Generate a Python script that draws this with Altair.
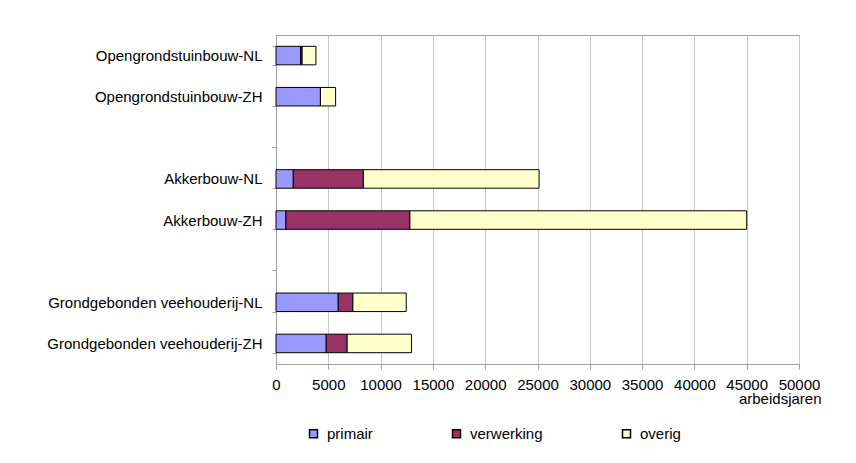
import altair as alt
import pandas as pd

categories = ["Opengrondstuinbouw-NL", "Opengrondstuinbouw-ZH",
              "Akkerbouw-NL", "Akkerbouw-ZH",
              "Grondgebonden veehouderij-NL", "Grondgebonden veehouderij-ZH"]
row_order = ["Opengrondstuinbouw-NL", "Opengrondstuinbouw-ZH", " ",
             "Akkerbouw-NL", "Akkerbouw-ZH", "  ",
             "Grondgebonden veehouderij-NL", "Grondgebonden veehouderij-ZH"]
series = ["primair", "verwerking", "overig"]
primair = [2350, 4250, 1650, 950, 5950, 4800]
verwerking = [150, 0, 6700, 11850, 1400, 2000]
overig = [1320, 1450, 16800, 32200, 5100, 6150]
colors = ["#9999FF", "#993366", "#FFFFCC"]
x_ticks = list(range(0, 50001, 5000))

rows = []
for i, c in enumerate(categories):
    for j, (s, vals) in enumerate(zip(series, [primair, verwerking, overig])):
        rows.append({"sector": c, "soort": s, "volgorde": j, "waarde": vals[i]})
df = pd.DataFrame(rows)

FONT = "Liberation Sans"
FS = 15

chart = alt.Chart(df).mark_bar(stroke="black", strokeWidth=1).encode(
    y=alt.Y("sector:N", sort=row_order,
            scale=alt.Scale(domain=row_order, paddingInner=0.55, paddingOuter=0.275),
            axis=alt.Axis(title=None, tickBand="extent", tickSize=4, labelPadding=10,
                          labelLimit=0,
                          labelFont=FONT, labelFontSize=FS, labelColor="black",
                          domainColor="#a0a0a0", tickColor="#a0a0a0", grid=False)),
    x=alt.X("waarde:Q", stack="zero",
            scale=alt.Scale(domain=[0, 50000], nice=False),
            axis=alt.Axis(values=x_ticks, format="d", title="arbeidsjaren", grid=True,
                          gridColor="#c8c8c8", domainColor="#a0a0a0", tickColor="#a0a0a0",
                          tickSize=5, labelPadding=8, labelOverlap=False, labelFlush=False,
                          labelFont=FONT, labelFontSize=FS, labelColor="black",
                          titleFont=FONT, titleFontSize=FS, titleFontWeight="normal",
                          titleColor="black", titleX=545, titleY=34, titleAlign="right",
                          titleBaseline="middle", titleAnchor="end")),
    color=alt.Color("soort:N", scale=alt.Scale(domain=series, range=colors),
                    legend=alt.Legend(title=None, orient="none", legendX=30, legendY=391,
                                      direction="horizontal", symbolType="square",
                                      symbolSize=64, symbolStrokeColor="black",
                                      symbolStrokeWidth=1.5, labelFont=FONT,
                                      labelFontSize=FS, labelColor="black",
                                      columnPadding=76, labelOffset=6)),
    order=alt.Order("volgorde:Q"),
).properties(
    width=523, height=329,
    autosize=alt.AutoSizeParams(type="none"),
    padding={"left": 268, "top": 27, "right": 49, "bottom": 91},
    background="white",
).configure_view(stroke="#a0a0a0")

chart.save("out.html", embed_options={"renderer": "svg", "actions": False})
